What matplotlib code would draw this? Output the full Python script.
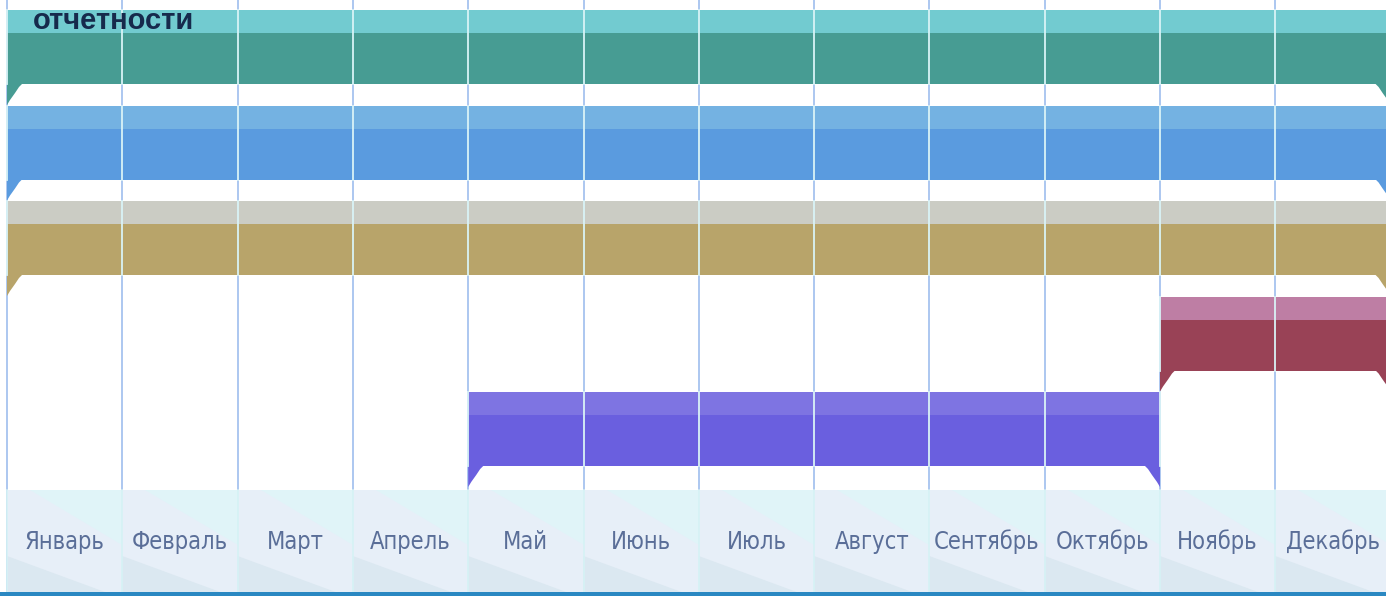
import matplotlib
matplotlib.use('Agg')
import matplotlib.pyplot as plt
from matplotlib import font_manager
from matplotlib.patches import Polygon, Rectangle

# данные графика
months = ['Январь', 'Февраль', 'Март', 'Апрель', 'Май', 'Июнь',
          'Июль', 'Август', 'Сентябрь', 'Октябрь', 'Ноябрь', 'Декабрь']
task_start = [0, 0, 0, 10, 4]
task_end = [12, 12, 12, 12, 10]
light_colors = ['#72cbd0', '#74b2e2', '#cbccc4', '#be7ea4', '#7e74e2']
dark_colors = ['#479c93', '#5a9bdf', '#b8a46a', '#994256', '#6a5fdf']
title_text = 'отчетности'

# выбор узкого шрифта для подписей месяцев
names = {(f.name, f.stretch) for f in font_manager.fontManager.ttflist}
label_font = dict(family='DejaVu Sans', fontsize=15)
if any(n == 'Liberation Sans Narrow' for n, s in names):
    label_font = dict(family='Liberation Sans Narrow', fontsize=20)
elif ('DejaVu Sans', 'condensed') in names:
    label_font = dict(family='DejaVu Sans', fontstretch='condensed', fontsize=17)

W, H = 1386, 596
col = 115.3          # ширина месяца в пикселях
x_off = 7            # левая граница
px = 1 / col         # один пиксель в единицах месяца

fig = plt.figure(figsize=(W / 100, H / 100), dpi=100)
ax = fig.add_axes([0, 0, 1, 1])
ax.set_xlim(-x_off / col, (W - x_off) / col)
ax.set_ylim(H, 0)
ax.axis('off')

# сетка по месяцам
for i in range(13):
    ax.plot([i, i], [0, 592], color='#a6c3ef', lw=1.3, zorder=1)

row_top = 10
row_step = 95.5
light_h = 23
dark_h = 51
tail_h = 21
tail_w = 15

for k in range(len(task_start)):
    x0, x1 = task_start[k], task_end[k]
    y0 = row_top + row_step * k
    ax.add_patch(Rectangle((x0, y0), x1 - x0, light_h, color=light_colors[k], lw=0, zorder=2))
    ax.add_patch(Rectangle((x0, y0 + light_h), x1 - x0, dark_h, color=dark_colors[k], lw=0, zorder=2))
    b = y0 + light_h + dark_h
    # "хвосты" по краям полосы
    left = [(x0, b), (x0 + tail_w * px, b), (x0 + 12 * px, b + 3), (x0 + 8 * px, b + 9),
            (x0 + 3 * px, b + 16), (x0, b + tail_h)]
    right = [(x1 - xx + x0, yy) for xx, yy in left]
    ax.add_patch(Polygon(left, closed=True, color=dark_colors[k], lw=0, zorder=2))
    ax.add_patch(Polygon(right, closed=True, color=dark_colors[k], lw=0, zorder=2))
    # светлые линии сетки поверх полосы
    for i in range(x0, x1 + 1):
        ax.plot([i, i], [y0, b], color='#d9f3f6', lw=1.3, zorder=3)

# подписи месяцев
box_top, box_bot = 490, 592
for i, m in enumerate(months):
    ax.add_patch(Rectangle((i, box_top), 1, box_bot - box_top, color='#e7eff8', lw=0, zorder=4))
    ax.add_patch(Polygon([(i + 0.2, box_top), (i + 1, box_top), (i + 1, 545)],
                         closed=True, color='#e0f4f8', lw=0, zorder=4))
    ax.add_patch(Polygon([(i, 556), (i + 0.85, box_bot), (i, box_bot)],
                         closed=True, color='#dbe8f1', lw=0, zorder=4))
    ax.plot([i, i], [box_top, box_bot], color='#d5f2f5', lw=1.2, zorder=5)
    ax.text(i + 0.5, 542, m, ha='center', va='center', color='#5a6e98', zorder=6, **label_font)
ax.add_patch(Rectangle((-1, box_bot), 14, H - box_bot, color='#2a88c2', lw=0, zorder=5))

ax.text(33 / col - x_off / col, 21, title_text, ha='left', va='center', fontsize=21,
        fontweight='bold', family=['Liberation Sans', 'DejaVu Sans'], color='#162a4c', zorder=7)

fig.savefig('out.png', dpi=100, facecolor='white')
